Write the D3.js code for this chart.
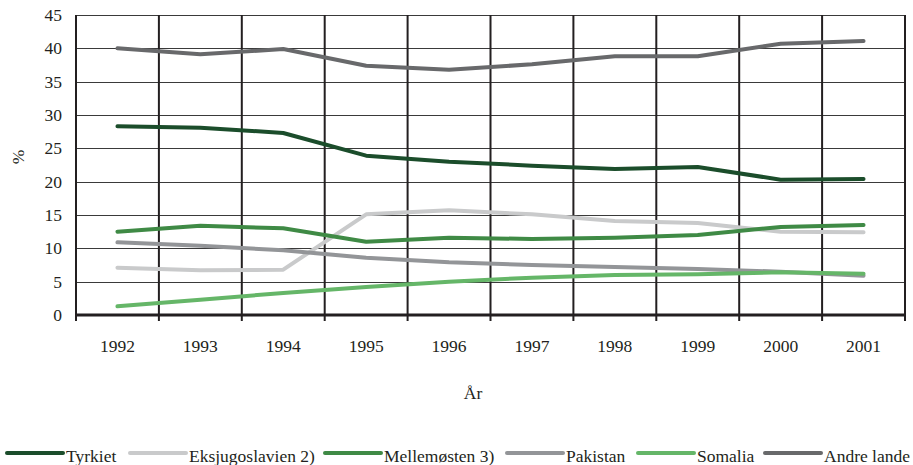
<!DOCTYPE html>
<html>
<head>
<meta charset="utf-8">
<script src="https://cdn.jsdelivr.net/npm/d3@7"></script>
<style>
  body { margin: 0; background: #fff; }
  svg text { font-family: "Liberation Serif", "DejaVu Serif", serif; fill: #231f20; }
</style>
</head>
<body>
<svg width="913" height="465"></svg>
<script>
// data
var years = ['1992', '1993', '1994', '1995', '1996', '1997', '1998', '1999', '2000', '2001'];
var yTicks = [0, 5, 10, 15, 20, 25, 30, 35, 40, 45];

var tyrkiet        = [28.3, 28.1, 27.3, 23.9, 23.0, 22.4, 21.9, 22.2, 20.3, 20.4];
var eksjugoslavien = [7.1, 6.7, 6.8, 15.1, 15.7, 15.1, 14.1, 13.8, 12.5, 12.4];
var mellemosten    = [12.5, 13.4, 13.0, 11.0, 11.6, 11.4, 11.6, 12.0, 13.2, 13.5];
var pakistan       = [10.9, 10.4, 9.7, 8.6, 7.9, 7.5, 7.2, 6.9, 6.5, 5.9];
var somalia        = [1.3, 2.3, 3.3, 4.2, 5.0, 5.6, 6.0, 6.1, 6.4, 6.2];
var andreLande     = [40.0, 39.1, 39.9, 37.4, 36.8, 37.6, 38.8, 38.8, 40.7, 41.1];

var series = [
    { name: 'Tyrkiet', values: tyrkiet, color: '#1b4d2b' },
    { name: 'Eksjugoslavien 2)', values: eksjugoslavien, color: '#c9cacb' },
    { name: 'Mellemøsten 3)', values: mellemosten, color: '#3f8a45' },
    { name: 'Pakistan', values: pakistan, color: '#939598' },
    { name: 'Somalia', values: somalia, color: '#65b668' },
    { name: 'Andre lande', values: andreLande, color: '#68696b' }
];

var svg = d3.select('svg');
var plotLeft = 76, plotRight = 905, plotTop = 15, plotBottom = 315;

var x = d3.scaleBand().domain(years).range([plotLeft, plotRight]);
var y = d3.scaleLinear().domain([0, 45]).range([plotBottom, plotTop]);

// horizontal grid
svg.append('g')
    .selectAll('line')
    .data(yTicks.filter(function (d) { return d > 0; }))
    .enter()
    .append('line')
    .attr('x1', plotLeft)
    .attr('x2', plotRight)
    .attr('y1', function (d) { return Math.round(y(d)) + 0.5; })
    .attr('y2', function (d) { return Math.round(y(d)) + 0.5; })
    .attr('stroke', '#3a3a3a')
    .attr('stroke-width', 1);

// vertical grid at category edges
var edges = years.map(function (d) { return x(d); }).concat([plotRight]);
svg.append('g')
    .selectAll('line')
    .data(edges)
    .enter()
    .append('line')
    .attr('x1', function (d) { return d; })
    .attr('x2', function (d) { return d; })
    .attr('y1', plotTop)
    .attr('y2', plotBottom + 6)
    .attr('stroke', '#231f20')
    .attr('stroke-width', 2);

// bottom axis line
svg.append('line')
    .attr('x1', plotLeft - 1)
    .attr('x2', plotRight + 1)
    .attr('y1', plotBottom)
    .attr('y2', plotBottom)
    .attr('stroke', '#231f20')
    .attr('stroke-width', 3);

// y tick labels
svg.append('g')
    .selectAll('text')
    .data(yTicks)
    .enter()
    .append('text')
    .attr('x', 62)
    .attr('y', function (d) { return y(d); })
    .attr('dy', '0.34em')
    .attr('text-anchor', 'end')
    .style('font-size', '17.5px')
    .text(function (d) { return d; });

// x tick labels
svg.append('g')
    .selectAll('text')
    .data(years)
    .enter()
    .append('text')
    .attr('x', function (d) { return x(d) + x.bandwidth() / 2; })
    .attr('y', 352)
    .attr('text-anchor', 'middle')
    .style('font-size', '17.5px')
    .text(function (d) { return d; });

// axis titles
svg.append('text')
    .attr('transform', 'translate(24,157) rotate(-90)')
    .attr('text-anchor', 'middle')
    .style('font-size', '17.5px')
    .text('%');

svg.append('text')
    .attr('x', 473)
    .attr('y', 399)
    .attr('text-anchor', 'middle')
    .style('font-size', '17.5px')
    .text('År');

// lines
var line = d3.line()
    .x(function (d, i) { return x(years[i]) + x.bandwidth() / 2; })
    .y(function (d) { return y(d); });

svg.append('g')
    .selectAll('path')
    .data(series)
    .enter()
    .append('path')
    .attr('d', function (d) { return line(d.values); })
    .attr('fill', 'none')
    .attr('stroke', function (d) { return d.color; })
    .attr('stroke-width', 4)
    .attr('stroke-linecap', 'round')
    .attr('stroke-linejoin', 'round');

// legend
var legendX = [7, 130, 325, 507, 638, 765];
var legend = svg.append('g')
    .selectAll('g')
    .data(series)
    .enter()
    .append('g')
    .attr('transform', function (d, i) { return 'translate(' + legendX[i] + ',0)'; });

legend.append('line')
    .attr('x1', 0)
    .attr('x2', 56)
    .attr('y1', 453)
    .attr('y2', 453)
    .attr('stroke', function (d) { return d.color; })
    .attr('stroke-width', 4)
    .attr('stroke-linecap', 'round');

legend.append('text')
    .attr('x', 59)
    .attr('y', 462)
    .style('font-size', '17.5px')
    .text(function (d) { return d.name; });
</script>
</body>
</html>
